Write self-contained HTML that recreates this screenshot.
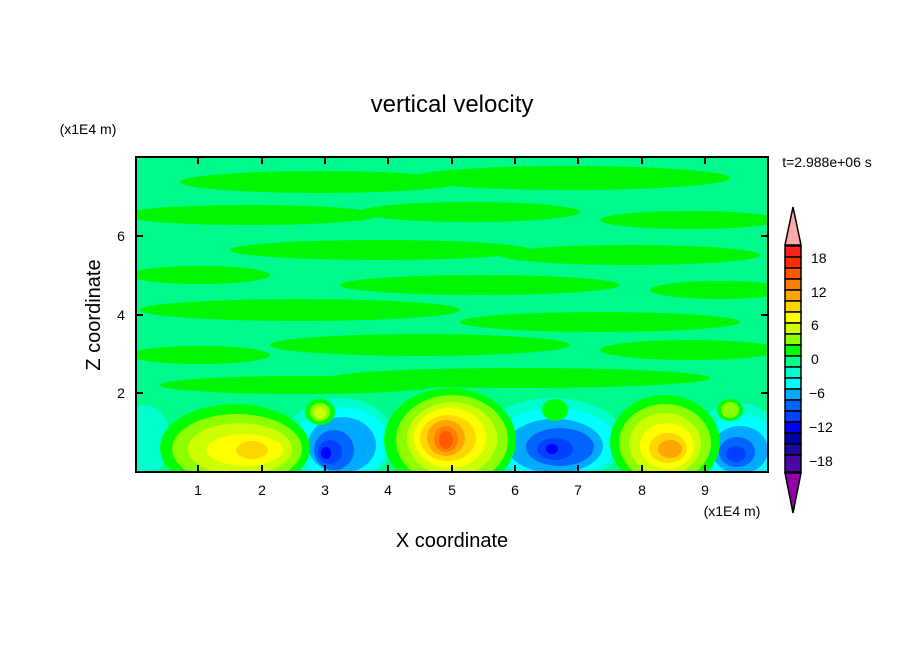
<!DOCTYPE html>
<html><head><style>
body{margin:0;background:#fff;}
svg{display:block;font-family:"Liberation Sans",sans-serif;}
</style></head><body>
<svg width="904" height="654" viewBox="0 0 904 654">
<defs><clipPath id="c"><rect x="136" y="157" width="632" height="315"/></clipPath></defs>
<g clip-path="url(#c)">
<rect x="136" y="157" width="632" height="315" fill="#00fa8c"/>
<g fill="#00f500">
<ellipse cx="320" cy="182" rx="140" ry="11"/><ellipse cx="570" cy="178" rx="160" ry="12"/>
<ellipse cx="250" cy="215" rx="130" ry="10"/><ellipse cx="470" cy="212" rx="110" ry="10"/><ellipse cx="690" cy="220" rx="90" ry="9"/>
<ellipse cx="380" cy="250" rx="150" ry="10"/><ellipse cx="630" cy="255" rx="130" ry="10"/>
<ellipse cx="200" cy="275" rx="70" ry="9"/><ellipse cx="480" cy="285" rx="140" ry="10"/><ellipse cx="720" cy="290" rx="70" ry="9"/>
<ellipse cx="300" cy="310" rx="160" ry="11"/><ellipse cx="600" cy="322" rx="140" ry="10"/>
<ellipse cx="420" cy="345" rx="150" ry="11"/><ellipse cx="200" cy="355" rx="70" ry="9"/><ellipse cx="690" cy="350" rx="90" ry="10"/>
<ellipse cx="520" cy="378" rx="190" ry="10"/><ellipse cx="300" cy="385" rx="140" ry="9"/>
</g>
<g fill="#00ffcc"><ellipse cx="145" cy="440" rx="25" ry="35"/><ellipse cx="340" cy="440" rx="55" ry="42"/><ellipse cx="553" cy="440" rx="72" ry="42"/><ellipse cx="738" cy="445" rx="45" ry="42"/></g>
<g fill="#00ffff"><ellipse cx="342" cy="443" rx="46" ry="36"/><ellipse cx="555" cy="443" rx="62" ry="35"/><ellipse cx="740" cy="448" rx="38" ry="34"/></g>
<g fill="#00aaff"><ellipse cx="342" cy="445" rx="34" ry="28"/><ellipse cx="555" cy="446" rx="48" ry="27"/><ellipse cx="740" cy="450" rx="28" ry="24"/></g>
<g fill="#0064ff"><ellipse cx="334" cy="450" rx="20" ry="20"/><ellipse cx="560" cy="447" rx="34" ry="19"/><ellipse cx="737" cy="452" rx="18" ry="15"/></g>
<g fill="#0040ff"><ellipse cx="330" cy="452" rx="12" ry="12"/><ellipse cx="555" cy="449" rx="18" ry="11"/><ellipse cx="736" cy="454" rx="10" ry="8"/></g>
<g fill="#0000ff"><ellipse cx="326" cy="453" rx="5" ry="6"/><ellipse cx="552" cy="449" rx="6" ry="5"/></g>
<g fill="#00ff00"><ellipse cx="235" cy="448" rx="75" ry="44"/><ellipse cx="450" cy="440" rx="66" ry="52"/><ellipse cx="665" cy="442" rx="55" ry="47"/><ellipse cx="320" cy="412" rx="15" ry="13"/><ellipse cx="555" cy="410" rx="13" ry="11"/><ellipse cx="730" cy="410" rx="13" ry="11"/></g>
<g fill="#8cff00"><ellipse cx="237" cy="449" rx="65" ry="35"/><ellipse cx="452" cy="440" rx="56" ry="45"/><ellipse cx="665" cy="443" rx="46" ry="39"/><ellipse cx="320" cy="412" rx="10" ry="9"/><ellipse cx="730" cy="410" rx="9" ry="8"/></g>
<g fill="#ccff00"><ellipse cx="240" cy="449" rx="52" ry="26"/><ellipse cx="452" cy="439" rx="45" ry="37"/><ellipse cx="665" cy="444" rx="36" ry="31"/><ellipse cx="320" cy="413" rx="6" ry="6"/></g>
<g fill="#ffff00"><ellipse cx="245" cy="450" rx="38" ry="16"/><ellipse cx="450" cy="438" rx="36" ry="30"/><ellipse cx="667" cy="446" rx="27" ry="23"/></g>
<g fill="#ffd700"><ellipse cx="252" cy="450" rx="16" ry="9"/><ellipse cx="448" cy="438" rx="28" ry="23"/><ellipse cx="668" cy="448" rx="19" ry="15"/></g>
<g fill="#ffa500"><ellipse cx="446" cy="438" rx="19" ry="18"/><ellipse cx="670" cy="449" rx="12" ry="9"/></g>
<g fill="#ff7f00"><ellipse cx="446" cy="439" rx="12" ry="13"/></g>
<g fill="#ff5a00"><ellipse cx="446" cy="440" rx="7" ry="9"/></g>
</g>
<rect x="136" y="157" width="632" height="315" fill="none" stroke="#000" stroke-width="2"/>
<g stroke="#000" stroke-width="2">
<path d="M198 472v-7M262 472v-7M325 472v-7M388 472v-7M452 472v-7M515 472v-7M578 472v-7M642 472v-7M705 472v-7"/>
<path d="M198 157v7M262 157v7M325 157v7M388 157v7M452 157v7M515 157v7M578 157v7M642 157v7M705 157v7"/>
<path d="M136 393h7M136 315h7M136 236h7M768 393h-7M768 315h-7M768 236h-7"/>
</g>
<g font-size="14" text-anchor="middle">
<text x="198" y="495">1</text><text x="262" y="495">2</text><text x="325" y="495">3</text><text x="388" y="495">4</text><text x="452" y="495">5</text><text x="515" y="495">6</text><text x="578" y="495">7</text><text x="642" y="495">8</text><text x="705" y="495">9</text>
<text x="121" y="398">2</text><text x="121" y="320">4</text><text x="121" y="241">6</text>
</g>
<text x="732" y="516" font-size="14" text-anchor="middle">(x1E4 m)</text>
<text x="88" y="134" font-size="14" text-anchor="middle">(x1E4 m)</text>
<text x="827" y="167" font-size="14" text-anchor="middle">t=2.988e+06 s</text>
<text x="452" y="112" font-size="24" text-anchor="middle">vertical velocity</text>
<text x="452" y="547" font-size="20" text-anchor="middle">X coordinate</text>
<text x="100" y="315" font-size="20" text-anchor="middle" transform="rotate(-90 100 315)">Z coordinate</text>
<g stroke="#000" stroke-width="1.5">
<polygon points="793,207 785,245 801,245" fill="#ffaaaa"/>
<polygon points="793,513 785,473 801,473" fill="#9400aa"/>
<rect x="785" y="246" width="16" height="11" fill="#ff2020"/>
<rect x="785" y="257" width="16" height="11" fill="#ff2a00"/>
<rect x="785" y="268" width="16" height="11" fill="#ff5a00"/>
<rect x="785" y="279" width="16" height="11" fill="#ff7f00"/>
<rect x="785" y="290" width="16" height="11" fill="#ffa500"/>
<rect x="785" y="301" width="16" height="11" fill="#ffd700"/>
<rect x="785" y="312" width="16" height="11" fill="#ffff00"/>
<rect x="785" y="323" width="16" height="11" fill="#ccff00"/>
<rect x="785" y="334" width="16" height="11" fill="#8cff00"/>
<rect x="785" y="345" width="16" height="11" fill="#00ff00"/>
<rect x="785" y="356" width="16" height="11" fill="#00ff8c"/>
<rect x="785" y="367" width="16" height="11" fill="#00ffcc"/>
<rect x="785" y="378" width="16" height="11" fill="#00ffff"/>
<rect x="785" y="389" width="16" height="11" fill="#00aaff"/>
<rect x="785" y="400" width="16" height="11" fill="#0064ff"/>
<rect x="785" y="411" width="16" height="11" fill="#0040ff"/>
<rect x="785" y="422" width="16" height="11" fill="#0000ff"/>
<rect x="785" y="433" width="16" height="11" fill="#0000aa"/>
<rect x="785" y="444" width="16" height="11" fill="#1a0aa0"/>
<rect x="785" y="455" width="16" height="17" fill="#4a0aa0"/>
</g>
<g font-size="14">
<text x="811" y="263">18</text><text x="811" y="297">12</text><text x="811" y="330">6</text><text x="811" y="364">0</text><text x="809" y="398">−6</text><text x="809" y="432">−12</text><text x="809" y="466">−18</text>
</g>
</svg>
</body></html>
